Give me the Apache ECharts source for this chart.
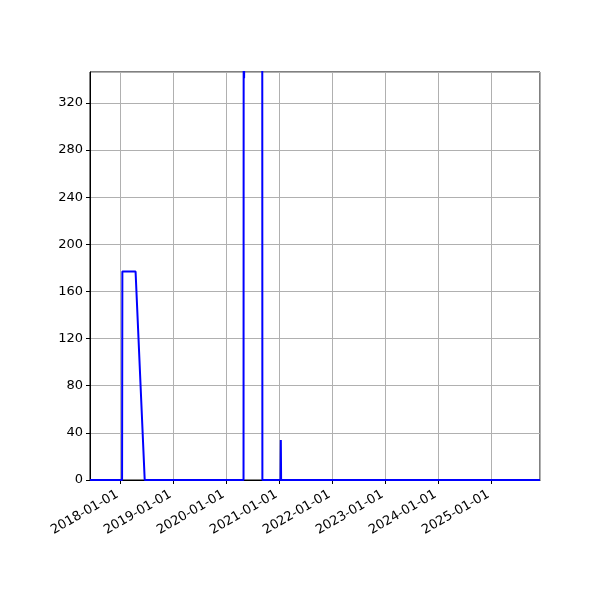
<!DOCTYPE html>
<html>
<head>
<meta charset="utf-8">
<script src="https://cdn.jsdelivr.net/npm/echarts@6/dist/echarts.min.js"></script>
<style>html,body{margin:0;padding:0;background:#fff}#c{width:600px;height:600px}</style>
</head>
<body>
<div id="c"></div>
<script>
const dates = ["2017-06-08","2018-01-15","2018-01-17","2018-04-18","2018-06-20","2020-05-01","2020-05-02","2020-05-05","2020-05-08","2020-09-07","2020-09-08","2021-01-11","2021-01-13","2021-01-15","2025-12-04"];
const values = [0,0,177,177,0,0,420,341,420,420,0,0,34,0,0];
const xMin = "2017-06-08";
const xMax = "2025-12-04";
const yMax = 346.3;
const yStep = 40;

const chart = echarts.init(document.getElementById('c'), null, {renderer:'canvas'});
const DAY = 86400000;
chart.setOption({
  animation: false,
  grid: {left: 90, right: 60, top: 72, bottom: 120, show: true, borderColor: '#000', borderWidth: 1, backgroundColor: 'transparent'},
  xAxis: {
    type: 'time',
    min: new Date(xMin + 'T00:00:00').getTime(),
    max: new Date(xMax + 'T00:00:00').getTime(),
    minInterval: 365 * DAY,
    maxInterval: 366 * DAY,
    axisLine: {lineStyle: {color: '#000', width: 1}},
    axisTick: {show: true, length: 4, lineStyle: {color: '#000'}},
    axisLabel: {formatter: '{yyyy}-{MM}-{dd}', rotate: 30, color: '#000', fontSize: 13, fontFamily: 'DejaVu Sans', margin: 12, padding: [0, 3, 0, 0], showMinLabel: false, showMaxLabel: false, hideOverlap: false},
    splitLine: {show: true, lineStyle: {color: '#b0b0b0', width: 1}}
  },
  yAxis: {
    type: 'value',
    min: 0,
    max: yMax,
    interval: yStep,
    axisLine: {show: true, lineStyle: {color: '#000', width: 1}},
    axisTick: {show: true, length: 4, lineStyle: {color: '#000'}},
    axisLabel: {color: '#000', fontSize: 13, fontFamily: 'DejaVu Sans', margin: 7, showMaxLabel: false},
    splitLine: {show: true, lineStyle: {color: '#b0b0b0', width: 1}}
  },
  series: [{
    type: 'line',
    data: dates.map((d, i) => [d, values[i]]),
    showSymbol: false,
    clip: true,
    lineStyle: {color: '#0000ff', width: 2},
    z: 5
  }]
});
</script>
</body>
</html>
